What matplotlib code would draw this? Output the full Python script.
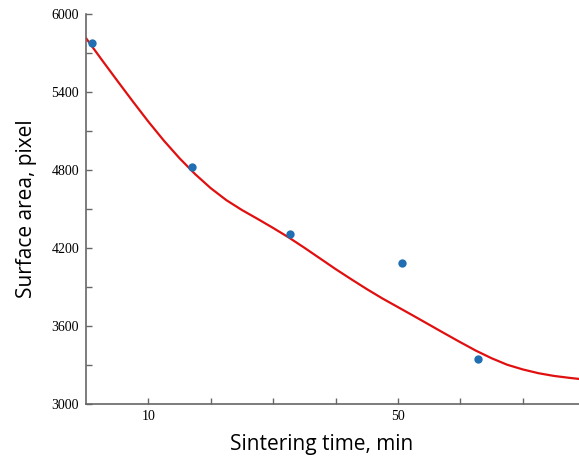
import numpy as np
import matplotlib
matplotlib.use("Agg")
import matplotlib.pyplot as plt

# measured points
time_min = [1, 17, 32.7, 50.6, 62.8]
area_px = [5777, 4823, 4308, 4085, 3346]

# fitted curve
fit_t = [0, 2.5, 5, 7.5, 10, 12.5, 15, 17.5, 20, 22.5, 25, 27.5, 30, 32.5, 35,
         37.5, 40, 42.5, 45, 47.5, 50, 52.5, 55, 57.5, 60, 62.5, 65, 67.5, 70,
         72.5, 75, 77.5, 79]
fit_a = [5815, 5650, 5488, 5328, 5172, 5025, 4890, 4768, 4660, 4568, 4492, 4424,
         4354, 4281, 4202, 4120, 4038, 3960, 3884, 3812, 3745, 3678, 3610, 3542,
         3475, 3410, 3352, 3302, 3266, 3237, 3216, 3201, 3193]

xticks = [10, 20, 30, 40, 50, 60, 70]
xticklabels = ["10", "", "", "", "50", "", ""]
yticks = [3000, 3600, 4200, 4800, 5400, 6000]

fig = plt.figure(figsize=(5.79, 4.63), dpi=100)
ax = fig.add_axes([0.1485, 0.1274, 0.8515, 0.8423])

ax.plot(fit_t, fit_a, color="#e01010", lw=1.6, zorder=2, solid_joinstyle="round")
ax.plot(time_min, area_px, "o", color="#1f6fb2", ms=6, mec="none", zorder=3)

ax.set_xlim(0, 79)
ax.set_ylim(3000, 6000)
ax.spines["top"].set_visible(False)
ax.spines["right"].set_visible(False)
for s in ("left", "bottom"):
    ax.spines[s].set_color("#666666")
    ax.spines[s].set_linewidth(1.2)

ax.set_xticks(xticks)
ax.set_xticklabels(xticklabels, family="Liberation Serif", fontsize=10)
ax.set_yticks(yticks)
ax.set_yticklabels([str(v) for v in yticks], family="Liberation Serif", fontsize=10)
ax.set_yticks(np.arange(3300, 6000, 600), minor=True)
ax.tick_params(axis="both", which="both", direction="in", length=4,
               color="#666666", width=1)
ax.tick_params(axis="y", pad=5)
ax.tick_params(axis="x", pad=4)

ax.set_xlabel("Sintering time, min", family="Open Sans", fontsize=15)
ax.xaxis.set_label_coords(0.477, -0.078)
ax.set_ylabel("Surface area, pixel", family="Open Sans", fontsize=15, labelpad=10)
ax.patch.set_visible(False)

fig.savefig("out.png", dpi=100)
